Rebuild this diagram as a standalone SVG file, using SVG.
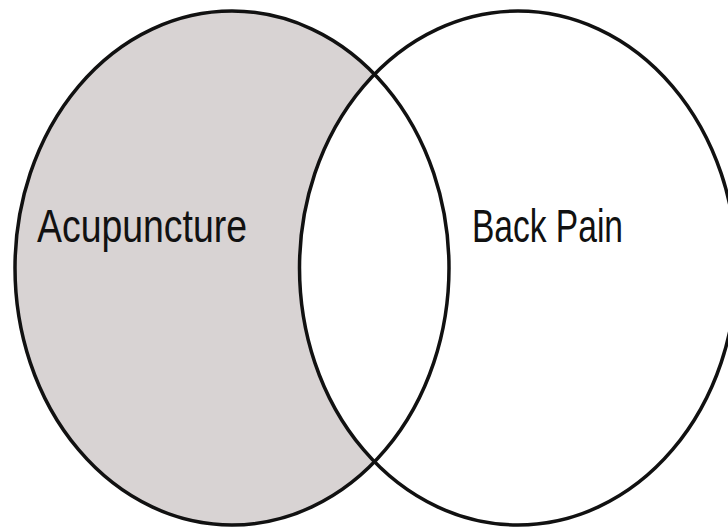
<svg xmlns="http://www.w3.org/2000/svg" width="728" height="528" viewBox="0 0 728 528">
<style>
.set{stroke:#111;stroke-width:3.5}
.lbl{font-family:"Liberation Sans Narrow","Liberation Sans",Arial,sans-serif;font-size:47px;fill:#111}
</style>
<defs>
<clipPath id="rightClip"><ellipse cx="518" cy="268" rx="218.5" ry="257"/></clipPath>
</defs>
<rect width="728" height="528" fill="#fff"/>
<g id="acupuncture">
<ellipse cx="232" cy="268" rx="217" ry="257" fill="#d8d3d3"/>
<ellipse cx="232" cy="268" rx="217" ry="257" fill="#fff" clip-path="url(#rightClip)"/>
<text class="lbl" x="37" y="242" textLength="210" lengthAdjust="spacingAndGlyphs">Acupuncture</text>
</g>
<g id="back-pain">
<text class="lbl" x="472" y="242" textLength="151" lengthAdjust="spacingAndGlyphs">Back Pain</text>
</g>
<g id="outlines">
<ellipse class="set" cx="232" cy="268" rx="217" ry="257" fill="none"/>
<ellipse class="set" cx="518" cy="268" rx="218.5" ry="257" fill="none"/>
</g>
</svg>
